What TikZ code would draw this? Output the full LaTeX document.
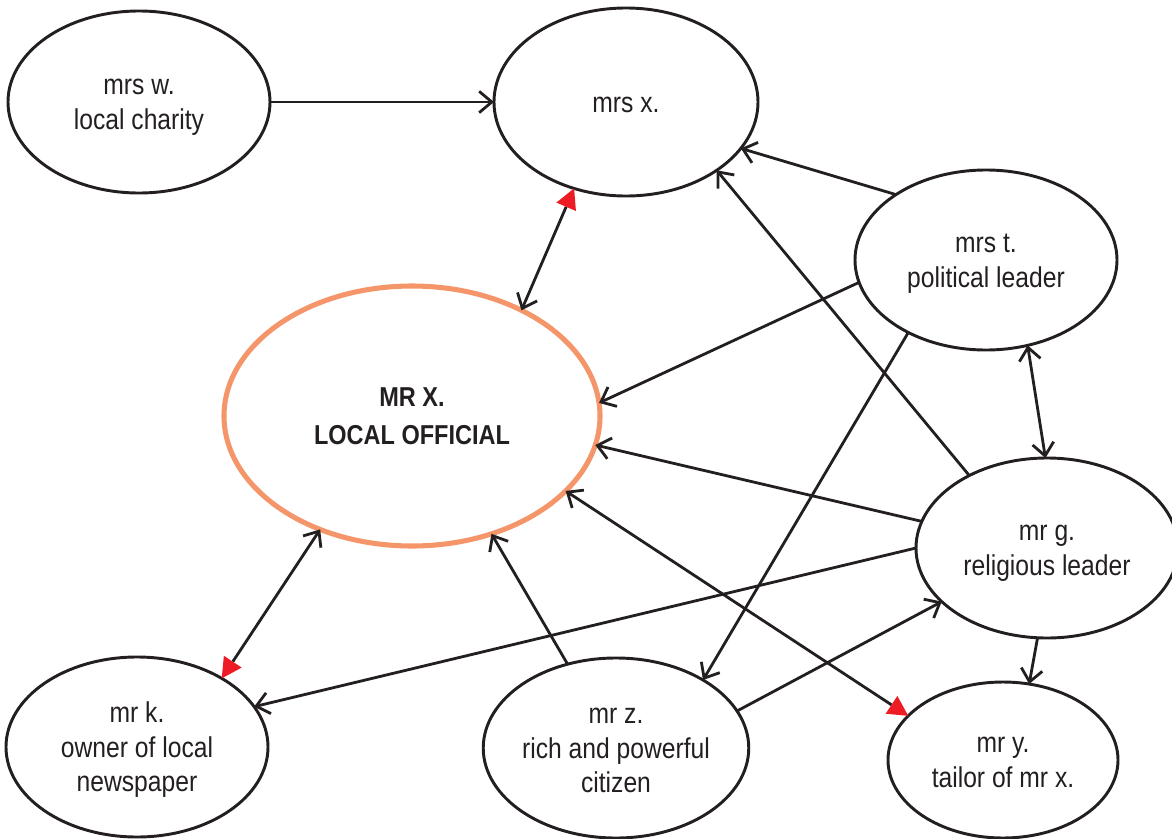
\documentclass[tikz,border=0pt]{standalone}
\usepackage{fontspec}
\setmainfont{Liberation Sans}[FakeStretch=0.86]
\usetikzlibrary{shapes.geometric,arrows.meta}
\definecolor{ink}{HTML}{231F20}
\definecolor{hub}{HTML}{F4956A}
\definecolor{tipred}{HTML}{ED1C24}
% centred stack of lines whose box takes no height, so every oval centres
% its text the same way, whatever the descenders
\newlength\ovaldrop
\setlength\ovaldrop{7.6pt}
\newcommand\ovaltext[1]{\raisebox{-\ovaldrop}[0pt][0pt]{\begin{tabular}{@{}c@{}}#1\end{tabular}}}
\tikzset{
  bhead/.tip={Straight Barb[length=9.5pt,width=16pt]},
  rhead/.tip={Triangle[length=15pt,width=16pt,color=tipred,line width=0pt]},
  actor/.style={ellipse, draw=ink, line width=2.2pt, inner sep=0pt, outer sep=0pt,
    text=ink, font=\fontsize{21.5}{26}\selectfont,
    minimum width=196.5pt, minimum height=135pt},
  official/.style={actor, draw=hub, line width=3.8pt,
    minimum width=282pt, minimum height=195pt,
    font=\setlength\ovaldrop{6.5pt}\bfseries\fontsize{20.5}{29}\selectfont},
  link/.style={draw=ink, line width=2.1pt, -bhead},
}
\begin{document}
\begin{tikzpicture}[x=0.75pt,y=-0.75pt]
\useasboundingbox (0,0) rectangle (1172,839);

% people
\node[actor, minimum height=136.5pt] (w) at (139,102) {\ovaltext{mrs w.\\local charity}};
\node[actor, minimum width=198pt, minimum height=141pt] (x) at (626,102) {\ovaltext{mrs x.}};
\node[actor] (t) at (986,260) {\ovaltext{mrs t.\\political leader}};
\node[official] (X) at (412,416) {\ovaltext{MR X.\\LOCAL OFFICIAL}};
\node[actor] (g) at (1047,548) {\ovaltext{mr g.\\religious leader}};
\node[actor] (k) at (137,747) {\ovaltext{mr k.\\owner of local\\newspaper}};
\node[actor] (z) at (616,748) {\ovaltext{mr z.\\rich and powerful\\citizen}};
\node[actor, minimum width=172.5pt, minimum height=117pt] (y) at (1003,760) {\ovaltext{mr y.\\tailor of mr x.}};

% influence links
\draw[link] (w.east) -- (x.west);
\draw[link, bhead-rhead] (X.44) -- (x.239.5);
\draw[link] (t.144) -- (x.-22);
\draw[link] (g.137.7) -- (x.-37.4);
\draw[link] (t.190) -- (X.4);
\draw[link] (t.223) -- (z.38);
\draw[link, bhead-bhead] (t.-64) -- (g.91);
\draw[link] (g.168) -- (X.-9.5);
\draw[link] (g.180) -- (k.19);
\draw[link] (z.17) -- (g.207);
\draw[link] (g.264) -- (y.71);
\draw[link] (z.120) -- (X.-56);
\draw[link, bhead-rhead] (X.-26.6) -- (y.155.6);
\draw[link, bhead-rhead] (X.231.8) -- (k.39.5);
\end{tikzpicture}
\end{document}
